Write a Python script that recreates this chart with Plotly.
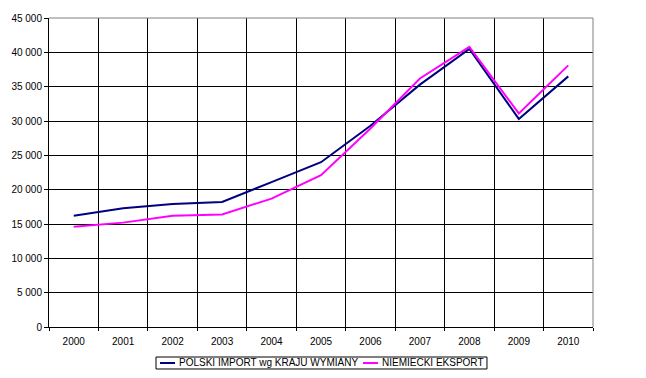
import plotly.graph_objects as go

years = ["2000", "2001", "2002", "2003", "2004", "2005", "2006", "2007", "2008", "2009", "2010"]
polski_import = [16200, 17300, 17900, 18200, 21100, 24000, 29300, 35300, 40500, 30300, 36500]
niemiecki_eksport = [14600, 15200, 16200, 16400, 18700, 22100, 28900, 36200, 40800, 31100, 38100]
y_ticks = [0, 5000, 10000, 15000, 20000, 25000, 30000, 35000, 40000, 45000]
y_tick_labels = ["0", "5 000", "10 000", "15 000", "20 000", "25 000", "30 000", "35 000", "40 000", "45 000"]
series_names = ["POLSKI IMPORT wg KRAJU WYMIANY", "NIEMIECKI EKSPORT"]
series_colors = ["#000080", "#FF00FF"]

fig = go.Figure()
for vals, name, col in zip([polski_import, niemiecki_eksport], series_names, series_colors):
    fig.add_trace(go.Scatter(x=years, y=vals, mode="lines", name=name,
                             line=dict(color=col, width=2), showlegend=False))

# page body has an 8px default margin, so the figure is 8px smaller and shifted
fig.update_layout(
    width=638, height=370,
    margin=dict(l=41, r=53, t=10, b=51),
    paper_bgcolor="white", plot_bgcolor="white",
    font=dict(family="Liberation Sans, Arial, sans-serif", size=10, color="black"),
    showlegend=False,
    xaxis=dict(type="category", tickson="boundaries", showgrid=True, gridcolor="black",
               gridwidth=1, showline=True, linecolor="black", linewidth=1,
               ticks="outside", ticklen=3, tickcolor="black", range=[-0.5, 10.5],
               zeroline=False, automargin=False, ticklabelstandoff=5),
    yaxis=dict(range=[0, 45000], tickvals=y_ticks, ticktext=y_tick_labels,
               showgrid=True, gridcolor="black", gridwidth=1, showline=True,
               linecolor="black", linewidth=1, ticks="outside", ticklen=4,
               tickcolor="black", zeroline=False, automargin=False),
)
# gray plot-area border on top and right
fig.add_shape(type="line", xref="paper", yref="paper", x0=0, x1=1, y0=1, y1=1,
              line=dict(color="#808080", width=1), layer="above")
fig.add_shape(type="line", xref="paper", yref="paper", x0=1, x1=1, y0=0, y1=1,
              line=dict(color="#808080", width=1), layer="above")

# legend box (drawn as shapes + text)
fig.add_shape(type="rect", xref="paper", yref="paper", x0=0.1967, x1=0.8051,
              y0=-0.1359, y1=-0.0971, line=dict(color="black", width=1),
              fillcolor="white")
leg_line_x = [(0.2040, 0.2316), (0.5772, 0.6048)]
leg_text_x = [0.2371, 0.6103]
for (lx0, lx1), tx, name, col in zip(leg_line_x, leg_text_x, series_names, series_colors):
    fig.add_shape(type="line", xref="paper", yref="paper", x0=lx0, x1=lx1,
                  y0=-0.1165, y1=-0.1165, line=dict(color=col, width=2))
    fig.add_annotation(xref="paper", yref="paper", x=tx, y=-0.1165, text=name,
                       showarrow=False, xanchor="left", yanchor="middle",
                       borderpad=0, font=dict(size=10, color="black"))

fig.write_html("out.html")
